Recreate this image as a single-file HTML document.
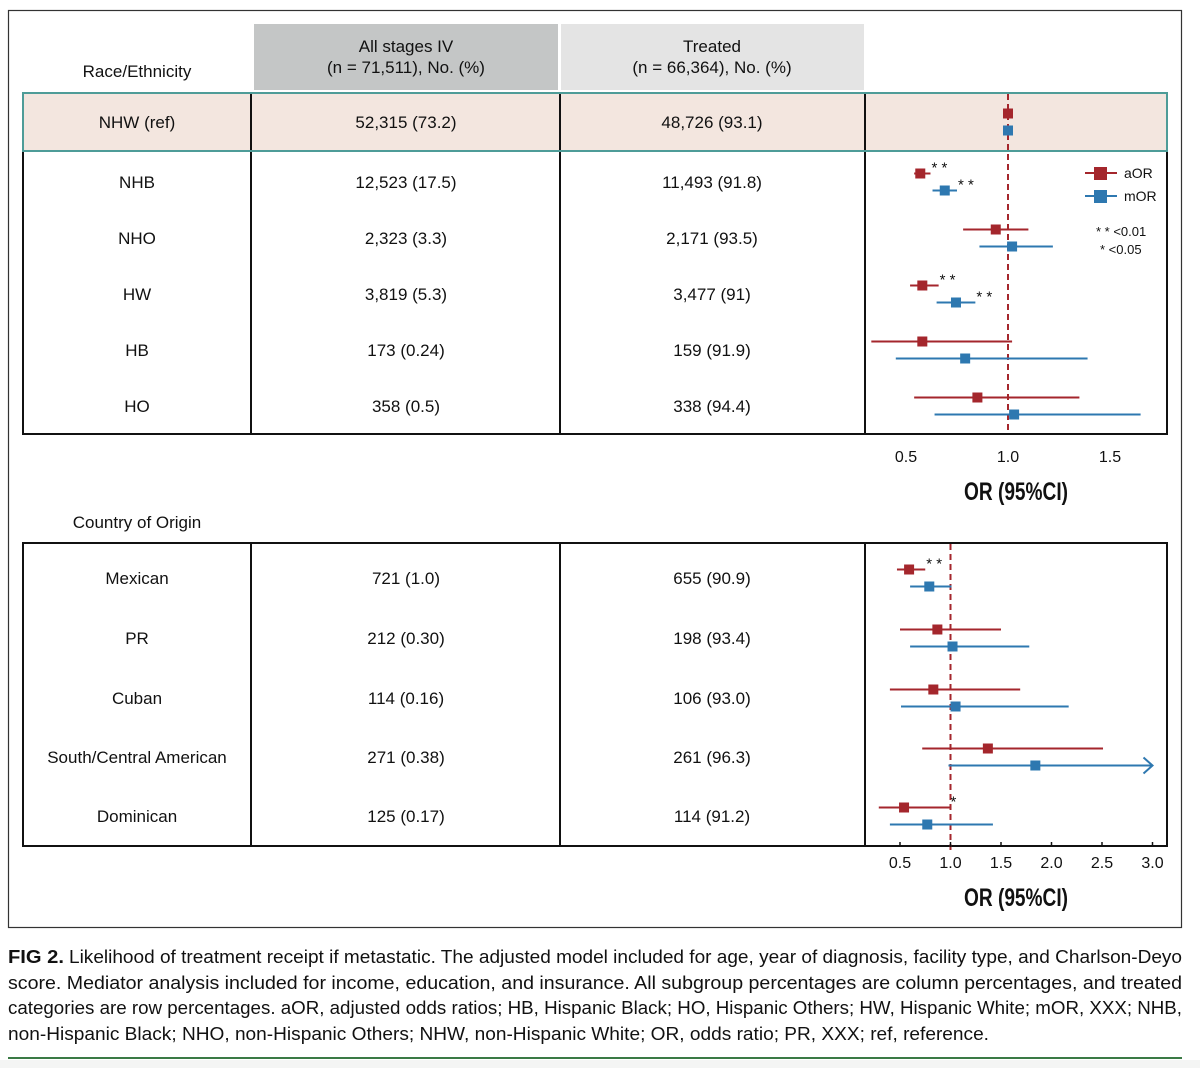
<!DOCTYPE html>
<html><head><meta charset="utf-8"><style>
html,body{margin:0;padding:0;background:#fff;width:1200px;height:1068px;overflow:hidden}
svg{display:block;font-family:"Liberation Sans",sans-serif}
</style></head><body>
<svg id="fig" width="1200" height="1068" viewBox="0 0 1200 1068">
<rect x="0" y="1060" width="1200" height="8" fill="#f4f5f4"/>
<rect x="8.5" y="10.5" width="1173" height="917" fill="#fff" stroke="#333" stroke-width="1.2"/>
<rect x="254" y="24" width="304" height="66" fill="#c4c6c6"/>
<rect x="561" y="24" width="303" height="66" fill="#e4e4e4"/>
<g font-size="17" text-anchor="middle" fill="#111">
<text x="406" y="52">All stages IV</text>
<text x="406" y="73">(n = 71,511), No. (%)</text>
<text x="712" y="52">Treated</text>
<text x="712" y="73">(n = 66,364), No. (%)</text>
<text x="137" y="77">Race/Ethnicity</text>
<text x="137" y="528">Country of Origin</text>
</g>
<g id="tables"></g>
<g id="plots"></g>
<g id="caption" font-size="18" fill="#111"></g>
<line x1="8" y1="1058" x2="1182" y2="1058" stroke="#3a7a45" stroke-width="2"/>
</svg>
<script>
// ---- Data: Race/Ethnicity ----
const raceCats = ["NHW (ref)","NHB","NHO","HW","HB","HO"];
const raceAll = ["52,315 (73.2)","12,523 (17.5)","2,323 (3.3)","3,819 (5.3)","173 (0.24)","358 (0.5)"];
const raceTreated = ["48,726 (93.1)","11,493 (91.8)","2,171 (93.5)","3,477 (91)","159 (91.9)","338 (94.4)"];
const raceAOR = [1.0,0.57,0.94,0.58,0.58,0.85];
const raceAORlo = [1.0,0.54,0.78,0.52,0.33,0.54];
const raceAORhi = [1.0,0.62,1.10,0.66,1.02,1.35];
const raceMOR = [1.0,0.69,1.02,0.745,0.79,1.03];
const raceMORlo = [1.0,0.63,0.86,0.65,0.45,0.64];
const raceMORhi = [1.0,0.75,1.22,0.84,1.39,1.65];
const raceAORsig = ["","**","","**","",""];
const raceMORsig = ["","**","","**","",""];
const raceTicks = [0.5,1.0,1.5];
const raceTickLabels = ["0.5","1.0","1.5"];
// ---- Data: Country of Origin ----
const ctryCats = ["Mexican","PR","Cuban","South/Central American","Dominican"];
const ctryAll = ["721 (1.0)","212 (0.30)","114 (0.16)","271 (0.38)","125 (0.17)"];
const ctryTreated = ["655 (90.9)","198 (93.4)","106 (93.0)","261 (96.3)","114 (91.2)"];
const ctryAOR = [0.59,0.87,0.83,1.37,0.54];
const ctryAORlo = [0.47,0.50,0.40,0.72,0.29];
const ctryAORhi = [0.75,1.50,1.69,2.51,0.99];
const ctryMOR = [0.79,1.02,1.05,1.84,0.77];
const ctryMORlo = [0.60,0.60,0.51,0.98,0.40];
const ctryMORhi = [1.01,1.78,2.17,3.00,1.42];
const ctryMORarrow = [false,false,false,true,false];
const ctryAORsig = ["**","","","","*"];
const ctryMORsig = ["","","","",""];
const ctryTicks = [0.5,1.0,1.5,2.0,2.5,3.0];
const ctryTickLabels = ["0.5","1.0","1.5","2.0","2.5","3.0"];

const NS="http://www.w3.org/2000/svg";
const RED="#a4262c", BLUE="#2e78b0";
function mk(tag,attrs,parent,text){const e=document.createElementNS(NS,tag);for(const k in attrs)e.setAttribute(k,attrs[k]);if(text!==undefined)e.textContent=text;parent.appendChild(e);return e;}
const tables=document.getElementById('tables'), plots=document.getElementById('plots');
const colX=[23,251,560,865,1167];

function drawTable(top,rowY,rowH,cats,all,tr,refBand,prefix){
  const bottom=rowY[rowY.length-1]+rowH/2+ (prefix==='race'?-1:0);
  if(refBand){
    const b=mk('rect',{x:23,y:rowY[0]-rowH/2,width:1144,height:rowH,fill:'#f3e6df'},tables);
    
    
  }
  const fr=mk('rect',{x:23,y:top,width:1144,height:bottom-top,fill:'none',stroke:'#111','stroke-width':2},tables);
  
  
  for(let i=1;i<4;i++){
    const l=mk('line',{x1:colX[i],y1:top,x2:colX[i],y2:bottom,stroke:'#111','stroke-width':2},tables);
    
    
  }
  if(refBand){
    const b=mk('rect',{x:23,y:rowY[0]-rowH/2,width:1144,height:rowH,fill:'none',stroke:'#4e9c98','stroke-width':2},tables);
    
    
  }
  cats.forEach((c,i)=>{
    const y=rowY[i]+6;
    const t1=mk('text',{x:137,y:y,'font-size':17,'text-anchor':'middle',fill:'#111'},tables,c);
    
    
    const t2=mk('text',{x:406,y:y,'font-size':17,'text-anchor':'middle',fill:'#111'},tables,all[i]);
    
    
    const t3=mk('text',{x:712,y:y,'font-size':17,'text-anchor':'middle',fill:'#111'},tables,tr[i]);
    
    
  });
}

function drawForest(sx,rowY,off,aor,alo,ahi,mor,mlo,mhi,asig,msig,ticks,tlabels,axisY,tickMarks,lineTop,lineBot,arrows,prefix){
  const ref=mk('line',{x1:sx(1),y1:lineTop,x2:sx(1),y2:lineBot,stroke:RED,'stroke-width':2,'stroke-dasharray':'6,4'},plots);
  
  
  function series(vals,lo,hi,sig,color,dy,name,arr){
    vals.forEach((v,i)=>{
      const y=rowY[i]+dy;
      if(hi[i]>lo[i]){
        const l=mk('line',{x1:sx(lo[i]),y1:y,x2:sx(hi[i]),y2:y,stroke:color,'stroke-width':2},plots);
        
        
        if(arr&&arr[i]){
          const a=mk('polyline',{points:`${sx(hi[i])-9},${y-8} ${sx(hi[i])},${y} ${sx(hi[i])-9},${y+8}`,fill:'none',stroke:color,'stroke-width':2},plots);
          
          
        }
      }
      const p=mk('rect',{x:sx(v)-5,y:y-5,width:10,height:10,fill:color},plots);
      
      
      if(sig[i]){
        const s=mk('text',{x:sx(hi[i])+1,y:y-1,'font-size':15,fill:'#111'},plots,sig[i].split('').join(' '));
        
        
      }
    });
  }
  series(aor,alo,ahi,asig,RED,-off,'aor',null);
  series(mor,mlo,mhi,msig,BLUE,off,'mor',arrows);
  ticks.forEach((t,i)=>{
    if(tickMarks){
      const tm=mk('line',{x1:sx(t),y1:tickMarks,x2:sx(t),y2:tickMarks+5,stroke:'#111','stroke-width':1.5},plots);
      
      
    }
    const tl=mk('text',{x:sx(t),y:axisY,'font-size':16,'text-anchor':'middle',fill:'#111'},plots,tlabels[i]);
    
    
  });
  const ti=mk('text',{x:1016,y:axisY+38,'font-size':25,'font-weight':'bold','text-anchor':'middle',fill:'#111','font-family':'"Liberation Sans Narrow","Liberation Sans",sans-serif',textLength:104,lengthAdjust:'spacingAndGlyphs'},plots,'OR (95%CI)');
  
  
}

const raceRowY=[122,182,238,294,350,406];
const ctryRowY=[578,638,698,757,816];
drawTable(93,raceRowY,58,raceCats,raceAll,raceTreated,true,'race');
drawTable(543,ctryRowY,60,ctryCats,ctryAll,ctryTreated,false,'country');
const sxRace=v=>906+(v-0.5)*204;
const sxCtry=v=>900+(v-0.5)*101;
drawForest(sxRace,raceRowY,8.5,raceAOR,raceAORlo,raceAORhi,raceMOR,raceMORlo,raceMORhi,raceAORsig,raceMORsig,raceTicks,raceTickLabels,462,0,94,433,null,'race');
drawForest(sxCtry,ctryRowY,8.5,ctryAOR,ctryAORlo,ctryAORhi,ctryMOR,ctryMORlo,ctryMORhi,ctryAORsig,ctryMORsig,ctryTicks,ctryTickLabels,868,842,544,850,ctryMORarrow,'country');

const lg=document.createElementNS(NS,'g');plots.appendChild(lg);


[[RED,'aOR',173],[BLUE,'mOR',196]].forEach(([c,l,y])=>{
  const ln=mk('line',{x1:1085,y1:y,x2:1117,y2:y,stroke:c,'stroke-width':2},lg);
  
  
  const r=mk('rect',{x:1094,y:y-6,width:13,height:13,fill:c},lg);
  
  
  const t=mk('text',{x:1124,y:y+5,'font-size':14,fill:'#111'},lg,l);
  
  
});
const p1=mk('text',{x:1096,y:236,'font-size':13,fill:'#111'},lg,'* * <0.01');


const p2=mk('text',{x:1100,y:254,'font-size':13,fill:'#111'},lg,'* <0.05');



const cap=document.getElementById('caption');
const lines=[
 [963,"Likelihood of treatment receipt if metastatic. The adjusted model included for age, year of diagnosis, facility type, and Charlson-Deyo",true],
 [989,"score. Mediator analysis included for income, education, and insurance. All subgroup percentages are column percentages, and treated",false],
 [1014,"categories are row percentages. aOR, adjusted odds ratios; HB, Hispanic Black; HO, Hispanic Others; HW, Hispanic White; mOR, XXX; NHB,",false],
 [1040,"non-Hispanic Black; NHO, non-Hispanic Others; NHW, non-Hispanic White; OR, odds ratio; PR, XXX; ref, reference.",false]
];
const widths=[1174,1174,1174,981];
lines.forEach(([y,txt,first],i)=>{
  if(first){
    const f=mk('text',{x:8,y:y,'font-weight':'bold','font-size':18,textLength:56,lengthAdjust:'spacingAndGlyphs'},cap,'FIG 2.');
    
    
    const t=mk('text',{x:69,y:y,textLength:1113,lengthAdjust:'spacingAndGlyphs'},cap,txt);
    
    
  } else {
    const t=mk('text',{x:8,y:y,textLength:widths[i],lengthAdjust:'spacingAndGlyphs'},cap,txt);
    
    
  }
});
</script>
</body></html>
